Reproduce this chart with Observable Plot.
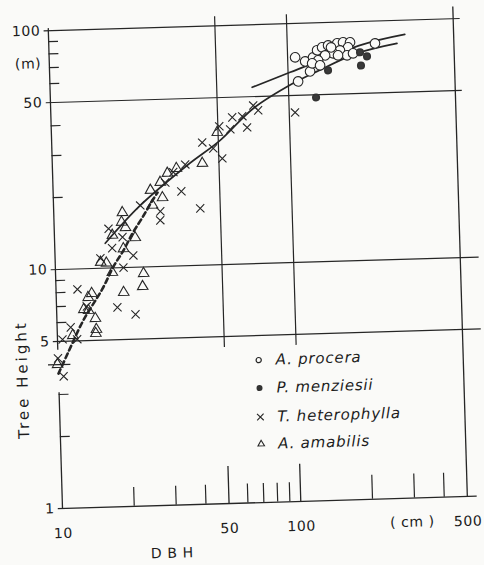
<!DOCTYPE html>
<html><head><meta charset="utf-8">
<script src="https://cdn.jsdelivr.net/npm/d3@7"></script>
<script src="https://cdn.jsdelivr.net/npm/@observablehq/plot@0.6"></script>
<style>
html,body{margin:0;padding:0;background:#fafaf8;}
#wrap{position:relative;width:484px;height:565px;transform:rotate(-1.7deg);transform-origin:62px 508px;}
#wrap svg{overflow:visible;}
#wrap svg text{letter-spacing:0.6px;}
#legend{position:absolute;left:0;top:0;width:484px;height:565px;pointer-events:none;}
.row{position:absolute;left:256px;height:20px;display:flex;align-items:center;white-space:nowrap;
  font-family:"DejaVu Sans";font-style:italic;font-size:15px;letter-spacing:0.8px;color:#1c1c1c;}
.row svg{width:14px;height:14px;margin-right:10px;overflow:visible;}
</style></head><body>
<div id="wrap"><div id="legend"></div></div>
<script>
// ---- data (DBH in cm, tree height in m) ----
const proceraDBH = [107.5,109.9,118.3,123.7,127.8,133.2,139.9,148.3,161.9,171.5,183.5,179.7,166.1,155.3,143.7,134.1,126.5,177.6,188.3,233.4,162.8,152.5,136.5];
const proceraH   = [72.1,57.1,69.1,62.7,71.7,76.7,78.8,80.1,81.5,82.2,82.0,78.2,76.1,74.1,72.8,69.6,67.7,72.4,73.7,80.6,72.6,78.5,66.3];

const menziesiiDBH = [147.2,130.1,202.6,215.3,201.5];
const menziesiiH   = [63.0,48.7,65.4,71.3,74.3];

const heteroDBH = [105.8,70.8,74.1,66.3,63.5,57.6,56.3,50.7,42.8,47.5,51.7,36.1,34.5,41.2,32.1,29.6,27.9,28.0,23.1,16.9,19.3,17.4,21.3,19.3,15.5,12.3,18.0,21.4,10.5,12.1,11.4,10.0,10.5,13.4];
const heteroH   = [42.4,45.9,43.7,37.2,41.5,41.2,36.7,37.9,32.6,30.7,27.8,26.5,20.5,17.3,24.7,22.4,15.6,17.0,18.1,14.6,13.4,12.1,11.2,10.0,11.0,8.22,6.83,6.35,5.09,5.08,5.71,4.25,3.57,6.95];

const amabilisDBH = [42.6,25.6,28.7,26.0,30.3,28.2,19.4,19.2,19.9,17.5,21.8,19.4,15.5,16.4,17.3,23.4,23.1,19.2,14.1,13.6,13.0,13.6,14.5,14.6,14.5,11.6,9.93,49.6,33.1];
const amabilisH   = [26.7,20.9,19.4,18.1,24.5,22.5,17.0,15.5,14.7,13.7,13.3,12.0,10.6,10.5,9.58,9.40,8.29,7.88,7.87,7.58,6.76,6.69,6.18,5.56,5.35,5.28,4.01,35.8,25.6];

// fitted curves
const upperDBH = [70.4,102,208,312];
const upperH   = [54.7,62.5,80.1,87.1];
const lowerDBH = [16.3,23.1,36.8,50.9,70.7,104.7,132.4,195.6,288.6];
const lowerH   = [12.7,18.1,26.3,33.1,44.6,56.2,62.6,73.6,80.1];
const dashDBH  = [10.0,11.0,12.9,15.7,17.5,19.4,21.3,23.5,26.0,27.4];
const dashH    = [3.67,4.45,6.08,8.23,10.1,11.8,13.9,16.1,18.9,20.4];

// axes / grid
const yTickLabels = [1,5,10,50,100];
const xTickLabels = [10,50,100,500];
const yMinorTicks = [2,3,6,7,8,9,20,30,40,60,70,80,90];
const xMinorTicks = [20,30,40,60,70,80,90];
const xMajorTicks = [50,100];
const xMidTicks   = [200,300,400];
const hGridLow  = [5,10];
const hGridHigh = [50,100];
const vGrid = [50,100];

const legendNames = ["A. procera","P. menziesii","T. heterophylla","A. amabilis"];
const legendSymbols = ["open","filled","times","triangle"];

// ---- build ----
const pts = (xs, ys) => xs.map((x, i) => ({x, y: ys[i]}));
const ink = "#262626", txt = "#1c1c1c", bg = "#fafaf8";

const chart = Plot.plot({
  width: 484, height: 565, margin: 0,
  style: {background: "transparent", fontFamily: "DejaVu Sans", color: txt, fontSize: "14px"},
  x: {type: "log", domain: [10, 500], range: [62, 467], axis: null},
  y: {type: "log", domain: [1, 100], range: [508, 30], axis: null},
  marks: [
    Plot.ruleY(hGridLow, {y: d => d, x1: 9.6, x2: 600, stroke: ink, strokeWidth: 1.2}),
    Plot.ruleY(hGridHigh, {y: d => d, x1: 9.6, x2: 535, stroke: ink, strokeWidth: 1.2}),
    Plot.ruleY([1], {y: d => d, x1: 9.6, x2: 550, stroke: ink, strokeWidth: 1.3}),
    Plot.ruleX(vGrid, {x: d => d, y1: 4.5, y2: 109, stroke: ink, strokeWidth: 1.2}),
    Plot.ruleX([500], {x: d => d, y1: 1, y2: 112, stroke: ink, strokeWidth: 1.3}),
    Plot.ruleX([{a: 1, b: 3.05}, {a: 4.6, b: 102}], {x: 10, y1: "a", y2: "b", stroke: ink, strokeWidth: 1.3}),
    Plot.ruleY(yMinorTicks, {y: d => d, x1: 10, x2: 11.0, stroke: ink, strokeWidth: 1.2}),
    Plot.ruleY([4], {y: d => d, x1: 9.1, x2: 11.3, stroke: ink, strokeWidth: 1.2}),
    Plot.ruleX(xMinorTicks, {x: d => d, y1: 1, y2: 1.2, stroke: ink, strokeWidth: 1.2}),
    Plot.ruleX(xMajorTicks, {x: d => d, y1: 1, y2: 1.43, stroke: ink, strokeWidth: 1.3}),
    Plot.ruleX(xMidTicks, {x: d => d, y1: 1, y2: 1.26, stroke: ink, strokeWidth: 1.2}),

    Plot.text(yTickLabels, {x: 10, y: d => d, text: d => String(d), textAnchor: "end", dx: -8, fill: txt, fontSize: 14}),
    Plot.text(["(m)"], {x: 10, y: 73, text: d => d, textAnchor: "end", dx: -8, fill: txt, fontSize: 14}),
    Plot.text(xTickLabels, {x: d => d, y: 1, text: d => String(d), dy: 25, fill: txt, fontSize: 14}),
    Plot.text(["( cm )"], {x: 292, y: 1, text: d => d, dy: 24, fill: txt, fontSize: 14}),
    Plot.text(["D B H"], {x: 28.5, y: 1, text: d => d, dy: 48, fill: txt, fontSize: 14}),
    Plot.text(["Tree Height"], {x: 7.07, y: 3.5, text: d => d, rotate: -90, fill: txt, fontSize: 15}),

    Plot.line(pts(upperDBH, upperH), {x: "x", y: "y", curve: "catmull-rom", stroke: ink, strokeWidth: 1.7}),
    Plot.line(pts(lowerDBH, lowerH), {x: "x", y: "y", curve: "catmull-rom", stroke: ink, strokeWidth: 1.7}),
    Plot.line(pts(dashDBH, dashH), {x: "x", y: "y", curve: "catmull-rom", stroke: ink, strokeWidth: 2.6, strokeDasharray: "5,3.5"}),

    Plot.dot(pts(heteroDBH, heteroH), {x: "x", y: "y", symbol: "times", r: 3.8, stroke: ink, strokeWidth: 1.1}),
    Plot.dot(pts(amabilisDBH, amabilisH), {x: "x", y: "y", symbol: "triangle", r: 3.9, stroke: ink, strokeWidth: 1.1, fill: "none"}),
    Plot.dot(pts(proceraDBH, proceraH), {x: "x", y: "y", r: 4.8, stroke: ink, strokeWidth: 1.1, fill: bg}),
    Plot.dot(pts(menziesiiDBH, menziesiiH), {x: "x", y: "y", r: 3.3, stroke: "#333", fill: "#3a3a3a"})
  ]
});
d3.select(chart).selectAll("text").filter(function(){ return this.textContent === "Tree Height"; })
  .style("letter-spacing", "3px");
document.getElementById("wrap").prepend(chart);

// legend
const legendY = [366, 394, 423, 450];
const leg = d3.select("#legend");
legendNames.forEach((name, i) => {
  const row = leg.append("div").attr("class", "row").style("top", (legendY[i] - 10) + "px");
  const s = row.append("svg").attr("viewBox", "-7 -7 14 14");
  const k = legendSymbols[i];
  if (k === "open") s.append("circle").attr("r", 2.6).attr("fill", "none").attr("stroke", ink).attr("stroke-width", 1.2);
  else if (k === "filled") s.append("circle").attr("r", 3).attr("fill", "#333");
  else if (k === "times") s.append("path").attr("d", d3.symbol(d3.symbolTimes, 30)()).attr("stroke", ink).attr("stroke-width", 1.1);
  else s.append("path").attr("d", d3.symbol(d3.symbolTriangle2, 30)()).attr("fill", "none").attr("stroke", ink).attr("stroke-width", 1.1);
  row.append("span").text(name);
});
</script>
</body></html>
